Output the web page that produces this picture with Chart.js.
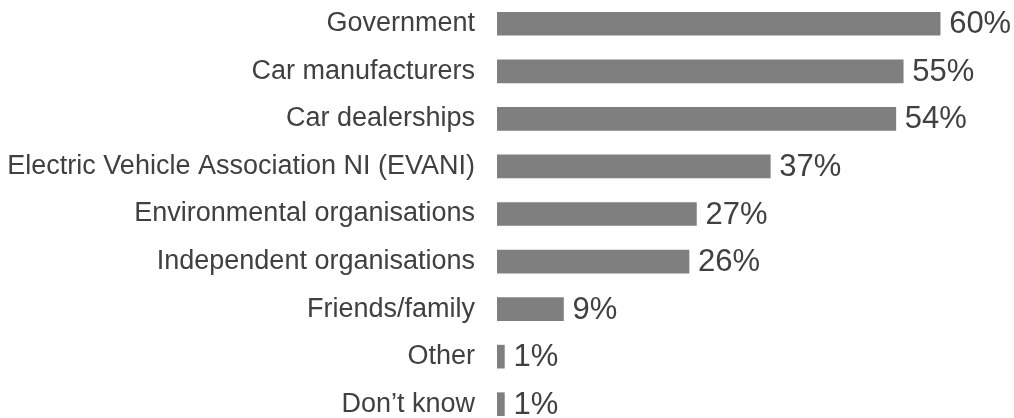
<!DOCTYPE html>
<html>
<head>
<meta charset="utf-8">
<script src="https://cdn.jsdelivr.net/npm/chart.js@4/dist/chart.umd.min.js"></script>
<style>
  html, body { margin: 0; padding: 0; background: #fff; overflow: hidden; }
  #wrap { width: 1014px; height: 428px; }
</style>
</head>
<body>
<div id="wrap"><canvas id="chart" width="1014" height="428"></canvas></div>
<script>
const sources = [
  'Government',
  'Car manufacturers',
  'Car dealerships',
  'Electric Vehicle Association NI (EVANI)',
  'Environmental organisations',
  'Independent organisations',
  'Friends/family',
  'Other',
  'Don\u2019t know'
]
const shares = [60, 55, 54, 37, 27, 26, 9, 1, 1]

const FONT = '"Liberation Sans", Arial, sans-serif'
const TEXT = '#404040'

// writes "NN%" just past the end of each bar
const valueLabels = {
  id: 'valueLabels',
  afterDatasetsDraw(chart) {
    const ctx = chart.ctx
    const meta = chart.getDatasetMeta(0)
    ctx.save()
    ctx.font = '31px ' + FONT
    ctx.fillStyle = TEXT
    ctx.textAlign = 'left'
    ctx.textBaseline = 'middle'
    meta.data.forEach((bar, i) => {
      ctx.fillText(shares[i] + '%', bar.x + 9, bar.y + 1)
    })
    ctx.restore()
  }
}

new Chart(document.getElementById('chart'), {
  type: 'bar',
  data: {
    labels: sources,
    datasets: [{
      data: shares,
      backgroundColor: '#7f7f7f',
      borderWidth: 0,
      barThickness: 23
    }]
  },
  options: {
    indexAxis: 'y',
    responsive: false,
    animation: false,
    layout: { padding: 0 },
    plugins: { legend: { display: false }, tooltip: { enabled: false } },
    scales: {
      x: { display: false, min: 0, max: 70 },
      y: {
        grid: { display: false, drawTicks: false },
        border: { display: false },
        ticks: {
          color: TEXT,
          padding: 22,
          font: { family: FONT, size: 27 }
        },
        afterFit(scale) {
          // fixed label column; the rows use the full canvas height
          scale.width = 497
          scale.paddingTop = 0
          scale.paddingBottom = 0
        }
      }
    }
  },
  plugins: [valueLabels]
})
</script>
</body>
</html>
